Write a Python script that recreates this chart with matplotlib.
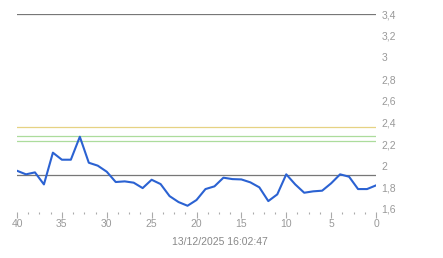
import matplotlib
matplotlib.use("Agg")
import matplotlib.pyplot as plt
from matplotlib.ticker import MultipleLocator, FuncFormatter

x_vals = list(range(40, -1, -1))
y_vals = [1.953, 1.920, 1.938, 1.827, 2.120, 2.055, 2.055, 2.267, 2.027, 2.000,
          1.944, 1.849, 1.855, 1.843, 1.793, 1.870, 1.830, 1.719, 1.664, 1.630,
          1.683, 1.784, 1.809, 1.889, 1.876, 1.873, 1.846, 1.800, 1.673, 1.735,
          1.920, 1.827, 1.750, 1.763, 1.769, 1.837, 1.920, 1.898, 1.784, 1.784,
          1.818]
gray_levels = [3.4, 1.913]
yellow_levels = [2.357]
green_levels = [2.273, 2.227]
y_ticks = [1.6, 1.8, 2.0, 2.2, 2.4, 2.6, 2.8, 3.0, 3.2, 3.4]
x_ticks = [40, 35, 30, 25, 20, 15, 10, 5, 0]
timestamp = "13/12/2025 16:02:47"

plt.rcParams['font.family'] = ['Liberation Sans', 'DejaVu Sans']

W, H = 443, 258
fig = plt.figure(figsize=(W / 100, H / 100), dpi=100)
left, right = 17 / W, 376 / W
top_px, bot_px = 14, 212
ax = fig.add_axes([left, 1 - bot_px / H, right - left, (bot_px - top_px) / H])

ppu = (209 - 14) / 1.8
ymin = 1.6 - (bot_px - 209) / ppu
ax.set_ylim(ymin, 3.4)
ax.set_xlim(40, 0)

for v in gray_levels:
    ax.axhline(v, color='#777777', lw=0.9, zorder=1)
for v in yellow_levels:
    ax.axhline(v, color='#e6d283', lw=0.9, zorder=1)
for v in green_levels:
    ax.axhline(v, color='#acdc9c', lw=0.9, zorder=1)

ax.plot(x_vals, y_vals, color='#2b62d2', lw=1.5, zorder=3, solid_joinstyle='round')

for s in ax.spines.values():
    s.set_visible(False)

ax.set_xticks(x_ticks)
ax.xaxis.set_minor_locator(MultipleLocator(1.25))
ax.tick_params(axis='x', which='major', length=4, width=0.8, color='#aaaaaa',
               labelsize=7.5, labelcolor='#999999', pad=1)
ax.tick_params(axis='x', which='minor', length=1.2, width=0.8, color='#aaaaaa')

ax.yaxis.tick_right()
ax.set_yticks(y_ticks)
ax.yaxis.set_major_formatter(FuncFormatter(lambda v, p: (f"{v:.1f}".rstrip('0').rstrip('.')).replace('.', ',')))
ax.tick_params(axis='y', which='both', length=0, labelsize=7.5, labelcolor='#999999', pad=4)

fig.text(219.5 / W, 1 - 242 / H, timestamp, ha='center', va='center',
         fontsize=7.5, color='#888888')

fig.savefig("out.png", dpi=100)
